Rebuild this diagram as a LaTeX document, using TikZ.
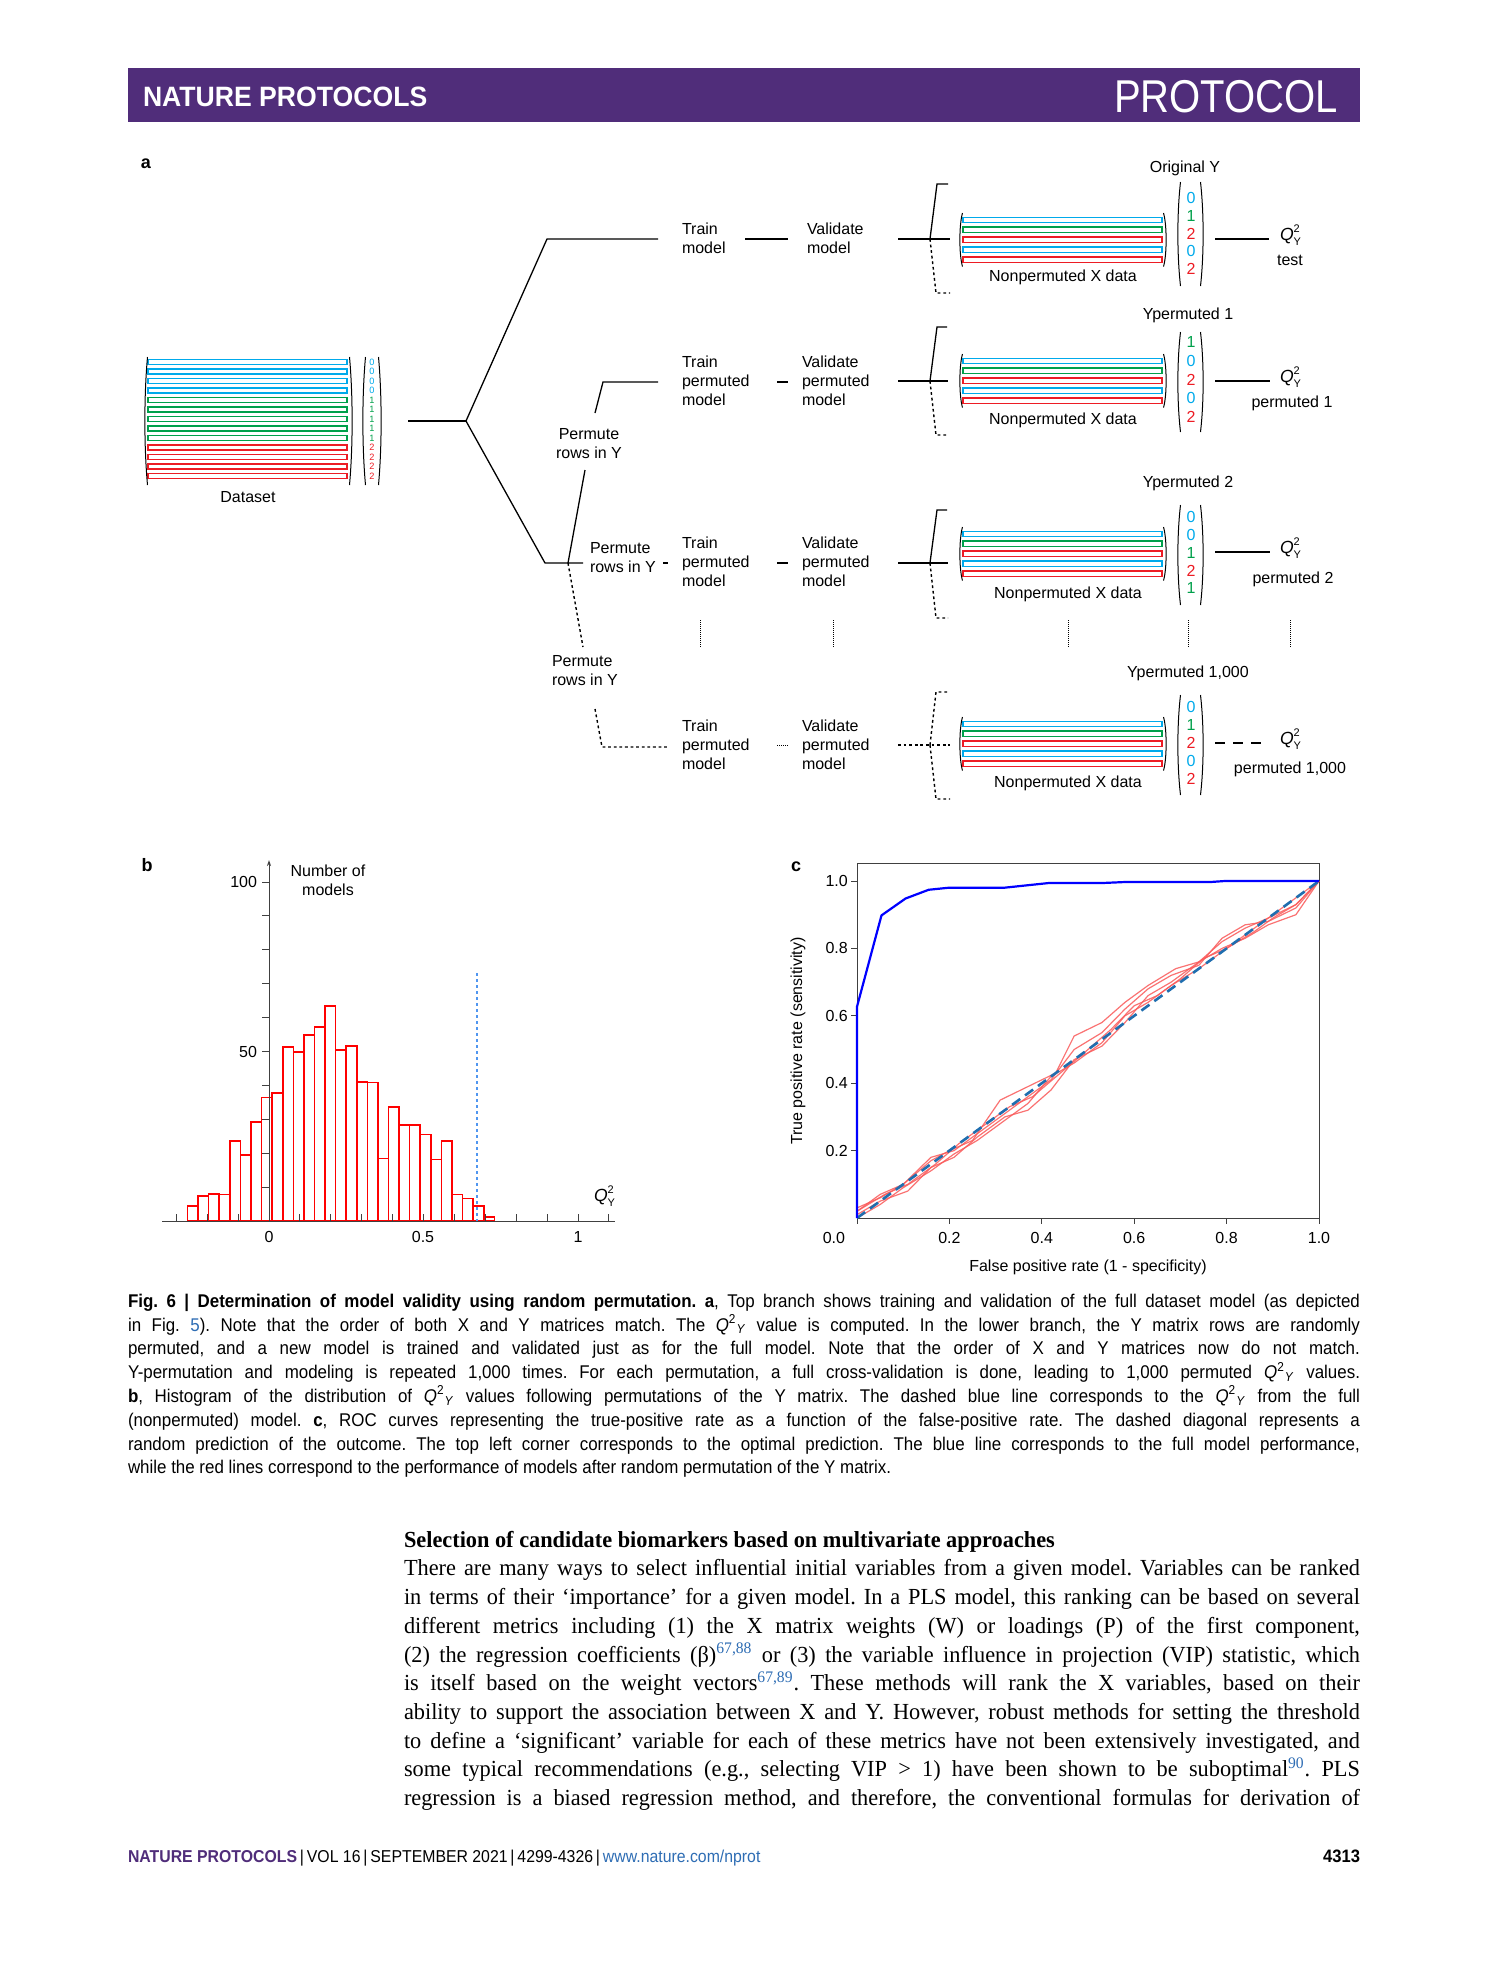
\documentclass[tikz,border=0pt]{standalone}
\usepackage{fontspec}
\setmainfont{Liberation Sans}
\newfontfamily\figfont{Liberation Sans}
\newfontfamily\capfont[FakeStretch=0.92]{Liberation Sans}
\newfontfamily\bodyfont[FakeStretch=0.97]{Liberation Serif}
\newfontfamily\headfontA[FakeStretch=0.95]{Liberation Sans}
\newfontfamily\headfontB[FakeStretch=0.87]{Liberation Sans}
\newfontfamily\footfont[FakeStretch=0.92]{Liberation Sans}
\usetikzlibrary{arrows.meta}
\definecolor{npurple}{RGB}{80,45,122}
\definecolor{cblue}{RGB}{0,170,235}
\definecolor{cgreen}{RGB}{0,160,75}
\definecolor{cred}{RGB}{237,28,36}
\definecolor{refblue}{RGB}{46,109,180}
\definecolor{diagblue}{RGB}{31,110,175}
\definecolor{rocred}{RGB}{250,90,90}
\definecolor{qblue}{RGB}{80,150,240}
\newcommand\myQ{{\itshape Q}\rlap{\smash{\raisebox{0.85ex}{\fontsize{5.5}{6}\selectfont 2}}}\smash{\raisebox{-0.55ex}{\fontsize{5.5}{6}\selectfont Y}}}
\newcommand\capQ{\textit{Q}\textsuperscript{2}\textsubscript{\textit{Y}}}
\newcommand\mylpar[3]{\draw[parline] (#1+2.5,#2) .. controls ({#1-1},{#2+0.3*(#3-#2)}) and ({#1-1},{#3-0.3*(#3-#2)}) .. (#1+2.5,#3);}
\newcommand\myrpar[3]{\draw[parline] (#1-2.5,#2) .. controls ({#1+1},{#2+0.3*(#3-#2)}) and ({#1+1},{#3-0.3*(#3-#2)}) .. (#1-2.5,#3);}
\newcommand\smallmat[6]{%
 \foreach \c [count=\i from 0] in {cblue,cgreen,cred,cblue,cred}
   \draw[barline,draw=\c] (963,{#1+\i*9.9-2.7}) rectangle (1162,{#1+\i*9.9+2.7});
 \mylpar{960}{#1-7}{#1+4*9.9+7}
 \myrpar{1166}{#1-7}{#1+4*9.9+7}
 \foreach \d/\c [count=\i from 0] in {#2}
   \node[text=\c, font=\figfont\fontsize{8}{9}\selectfont] at (1191,{#3+\i*#4}) {\d};
 \mylpar{1178}{#5}{#6}
 \myrpar{1203}{#5}{#6}
}
\begin{document}
\begin{tikzpicture}[x=0.5pt,y=-0.5pt, inner sep=0pt, outer sep=0pt,
  conn/.style={line width=0.65pt},
  dotl/.style={line width=0.7pt, dash pattern=on 1.4pt off 1.4pt},
  fined/.style={line width=0.5pt, dash pattern=on 0.5pt off 0.5pt},
  barline/.style={line width=0.75pt},
  parline/.style={line width=0.5pt},
  lbl/.style={font=\figfont\fontsize{8}{9.5}\selectfont, align=left},
  lblc/.style={font=\figfont\fontsize{8}{9.5}\selectfont, align=center},
  panel/.style={font=\figfont\bfseries\fontsize{9}{10}\selectfont},
  axisl/.style={line width=0.5pt, draw=black!75},
  histbar/.style={line width=0.8pt, draw=red, fill=white},
  qlbl/.style={anchor=west, font=\figfont\fontsize{8.8}{9}\selectfont},
]
\useasboundingbox (0,0) rectangle (1489,1978);
\fill[white] (0,0) rectangle (1489,1978);

% ---------- header ----------
\fill[npurple] (128,68) rectangle (1360,122);
\node[anchor=west, text=white, font=\headfontA\bfseries\fontsize{14}{14}\selectfont] (hdl) at (143,97) {NATURE PROTOCOLS};
\node[anchor=east, text=white, font=\headfontB\fontsize{23}{23}\selectfont] (hdr) at (1338,97) {PROTOCOL};

% ---------- panel a ----------
\node[panel] (pa) at (146,164) {a};
\foreach \c/\d [count=\i from 0] in {cblue/0,cblue/0,cblue/0,cblue/0,cgreen/1,cgreen/1,cgreen/1,cgreen/1,cgreen/1,cred/2,cred/2,cred/2,cred/2} {
  \draw[barline,draw=\c] (148,{362+\i*9.5-2.4}) rectangle (347,{362+\i*9.5+2.4});
  \node[text=\c, font=\figfont\fontsize{4.6}{5}\selectfont] at (372,{362+\i*9.5}) {\d};
}
\mylpar{145}{357}{485}
\myrpar{352}{357}{485}
\mylpar{363}{357}{485}
\myrpar{381}{357}{485}
\node[lblc] (ds) at (248,497) {Dataset};

\coordinate (d0) at (408,421);
\coordinate (fork) at (466,421);
\coordinate (topk) at (547,239);
\coordinate (topend) at (658,239);
\coordinate (lowk) at (545,563);
\coordinate (j3) at (568,563);
\coordinate (lowend) at (583,563);
\draw[conn] (d0) -- (fork);
\draw[conn] (fork) -- (topk) -- (topend);
\draw[conn] (fork) -- (lowk) -- (lowend);
\draw[conn] (j3) -- (585,470);
\draw[conn] (595,413) -- (603,382) -- (658,382);
\draw[dotl] (j3) -- (583,647);
\draw[dotl] (595,709) -- (602,747) -- (668,747);

\node[lblc] (p1) at (589,444) {Permute\\rows in Y};
\node[lbl, anchor=west] (p2) at (590,558) {Permute\\rows in Y};
\draw[conn] (663,563) -- (668,563);
\node[lbl, anchor=west] (p3) at (552,671) {Permute\\rows in Y};

\node[lbl, anchor=west] (t1) at (682,238) {Train\\model};
\node[lbl, anchor=west] (v1) at (807,238) {Validate\\model};
\draw[conn] (745,239) -- (788,239);
\node[lbl, anchor=west] (t2) at (682,381) {Train\\permuted\\model};
\node[lbl, anchor=west] (v2) at (802,381) {Validate\\permuted\\model};
\draw[conn] (777,382) -- (788,382);
\node[lbl, anchor=west] (t3) at (682,562) {Train\\permuted\\model};
\node[lbl, anchor=west] (v3) at (802,562) {Validate\\permuted\\model};
\draw[conn] (777,563) -- (788,563);
\node[lbl, anchor=west] (t4) at (682,745) {Train\\permuted\\model};
\node[lbl, anchor=west] (v4) at (802,745) {Validate\\permuted\\model};
\draw[fined] (777,745) -- (788,745);

% vertical ellipsis lines
\foreach \x in {700,833,1068,1188,1290}
  \draw[fined] (\x,620) -- (\x,648);

% brackets
\draw[conn] (898,239) -- (950,239);
\draw[conn] (930,239) -- (937,184) -- (948,184);
\draw[dotl] (930,239) -- (936,293) -- (950,293);
\draw[conn] (898,381) -- (948,381);
\draw[conn] (930,381) -- (937,327) -- (947,327);
\draw[dotl] (930,381) -- (936,435) -- (948,435);
\draw[conn] (898,563) -- (948,563);
\draw[conn] (930,563) -- (937,510) -- (947,510);
\draw[dotl] (930,563) -- (936,618) -- (948,618);
\draw[dotl] (898,745) -- (950,745);
\draw[dotl] (930,745) -- (936,692) -- (947,692);
\draw[dotl] (930,745) -- (936,799) -- (950,799);

% matrices
\smallmat{220}{0/cblue,1/cgreen,2/cred,0/cblue,2/cred}{198}{17.8}{182}{286}
\smallmat{361}{1/cgreen,0/cblue,2/cred,0/cblue,2/cred}{342}{18.8}{332}{432}
\smallmat{534}{0/cblue,0/cblue,1/cgreen,2/cred,1/cgreen}{517}{17.8}{505}{605}
\smallmat{724}{0/cblue,1/cgreen,2/cred,0/cblue,2/cred}{707}{18}{695}{795}

\node[lblc] (nx1) at (1063,277) {Nonpermuted X data};
\node[lblc] (nx2) at (1063,420) {Nonpermuted X data};
\node[lblc] (nx3) at (1068,594) {Nonpermuted X data};
\node[lblc] (nx4) at (1068,783) {Nonpermuted X data};
\node[lblc] (oy) at (1185,168) {Original Y};
\node[lblc] (yp1) at (1188,315) {Ypermuted 1};
\node[lblc] (yp2) at (1188,483) {Ypermuted 2};
\node[lblc] (yp3) at (1188,673) {Ypermuted 1,000};

% Q outputs
\node[qlbl] (q1) at (1280,236) {\myQ};
\node[lblc] (q1t) at (1290,260) {test};
\coordinate (q1e) at (1269,239);
\draw[conn] (1215,239) -- (q1e);
\node[qlbl] (q2) at (1280,378) {\myQ};
\node[lblc] (q2t) at (1292,403) {permuted 1};
\coordinate (q2e) at (1270,381);
\draw[conn] (1215,381) -- (q2e);
\node[qlbl] (q3) at (1280,549) {\myQ};
\node[lblc] (q3t) at (1293,579) {permuted 2};
\coordinate (q3e) at (1270,552);
\draw[conn] (1215,552) -- (q3e);
\node[qlbl] (q4) at (1280,740) {\myQ};
\node[lblc] (q4t) at (1290,769) {permuted 1,000};
\coordinate (q4e) at (1262,743);
\draw[line width=0.65pt, dash pattern=on 5pt off 4pt] (1215,743) -- (q4e);

% ---------- panel b ----------
\node[panel] (pb) at (147,865) {b};
\foreach \t [count=\i from 0] in {1206,1196,1194,1194.3,1141,1155,1121.7,1097.3,1092.7,1046.7,1051.7,1035,1026.7,1005.7,1050,1046,1081.7,1082.3,1158.3,1106.7,1125,1125,1134.3,1159.3,1141,1194.3,1198.3,1206,1216.7}
  \draw[histbar] ({187.5+\i*10.58},1221) rectangle ({187.5+(\i+1)*10.58},\t);
\draw[axisl] (162,1221) -- (615,1221);
\draw[axisl, -{Stealth[length=3pt,width=2pt]}] (269,1221) -- (269,860);
\foreach \k in {1,...,10}
  \draw[axisl] (262,{1221-\k*33.9}) -- (269,{1221-\k*33.9});
\foreach \j in {-3,...,11}
  \draw[axisl] ({269+\j*30.9},1214) -- ({269+\j*30.9},1221);
\draw[line width=0.9pt, dash pattern=on 1.5pt off 1.5pt, draw=qblue] (477,973) -- (477,1221);
\node[lblc, anchor=east] (b100) at (257,882) {100};
\node[lblc, anchor=east] (b50) at (257,1052) {50};
\node[lblc] (bx0) at (269,1237) {0};
\node[lblc] (bx5) at (423,1237) {0.5};
\node[lblc] (bx1) at (578,1237) {1};
\node[lblc] (bnum) at (328,880) {Number of\\models};
\node[qlbl] (bq) at (594,1197) {\myQ};

% ---------- panel c ----------
\node[panel] (pc) at (796,867) {c};
\draw[axisl] (857,863) rectangle (1319,1218);
\begin{scope}[shift={(857,1218)}, x=231pt, y=168.5pt]
  \foreach \u in {0,0.2,0.4,0.6,0.8,1}
    \draw[axisl] (\u,0) -- (\u,-0.018);
  \foreach \v in {0.2,0.4,0.6,0.8,1}
    \draw[axisl] (0,\v) -- (-0.014,\v);
  \node[lblc] at (-0.05,-0.06) {0.0};
  \foreach \u in {0.2,0.4,0.6,0.8,1.0}
    \node[lblc] at (\u,-0.06) {\u};
  \foreach \v in {0.2,0.4,0.6,0.8,1.0}
    \node[lblc, anchor=east] at (-0.02,\v) {\v};
  \begin{scope}[line width=0.6pt, draw=rocred, opacity=0.85, line join=round]
  \draw (0,0.02) -- (0.05,0.07) -- (0.1,0.1) -- (0.16,0.17) -- (0.2,0.2) -- (0.25,0.23) -- (0.31,0.35) -- (0.37,0.39) -- (0.43,0.43) -- (0.47,0.54) -- (0.53,0.58) -- (0.58,0.64) -- (0.63,0.69) -- (0.69,0.74) -- (0.74,0.76) -- (0.79,0.82) -- (0.84,0.86) -- (0.89,0.89) -- (0.95,0.93) -- (1,1);
  \draw (0,0.01) -- (0.05,0.05) -- (0.11,0.08) -- (0.16,0.15) -- (0.21,0.18) -- (0.26,0.24) -- (0.32,0.3) -- (0.37,0.32) -- (0.42,0.38) -- (0.47,0.47) -- (0.53,0.51) -- (0.58,0.58) -- (0.63,0.66) -- (0.68,0.7) -- (0.74,0.76) -- (0.79,0.8) -- (0.84,0.83) -- (0.89,0.87) -- (0.95,0.9) -- (1,1);
  \draw (0,0.03) -- (0.05,0.06) -- (0.1,0.1) -- (0.16,0.18) -- (0.21,0.2) -- (0.26,0.25) -- (0.32,0.31) -- (0.37,0.36) -- (0.42,0.41) -- (0.47,0.5) -- (0.53,0.55) -- (0.58,0.62) -- (0.63,0.68) -- (0.68,0.72) -- (0.74,0.75) -- (0.79,0.83) -- (0.84,0.87) -- (0.89,0.88) -- (0.95,0.92) -- (1,1);
  \draw (0,0) -- (0.05,0.04) -- (0.1,0.09) -- (0.16,0.14) -- (0.21,0.19) -- (0.26,0.23) -- (0.32,0.29) -- (0.37,0.34) -- (0.42,0.42) -- (0.47,0.46) -- (0.53,0.52) -- (0.58,0.6) -- (0.63,0.64) -- (0.68,0.69) -- (0.74,0.74) -- (0.79,0.79) -- (0.84,0.84) -- (0.89,0.89) -- (0.95,0.95) -- (1,1);
  \draw (0,0.02) -- (0.06,0.07) -- (0.11,0.1) -- (0.17,0.16) -- (0.22,0.22) -- (0.27,0.27) -- (0.33,0.33) -- (0.38,0.36) -- (0.44,0.43) -- (0.5,0.5) -- (0.55,0.56) -- (0.6,0.63) -- (0.65,0.66) -- (0.7,0.71) -- (0.75,0.77) -- (0.8,0.8) -- (0.86,0.85) -- (0.9,0.89) -- (0.95,0.93) -- (1,1);
  \end{scope}
  \draw[line width=1.3pt, draw=diagblue, dash pattern=on 5pt off 3pt] (0,0) -- (1,1);
  \draw[line width=1.1pt, draw=blue, line join=round] (0,0) -- (0,0.627) -- (0.053,0.898) -- (0.105,0.948) -- (0.155,0.974) -- (0.198,0.98) -- (0.318,0.98) -- (0.415,0.994) -- (0.53,0.994) -- (0.58,0.997) -- (0.765,0.997) -- (0.796,1) -- (1,1);
\end{scope}
\node[lblc] (cxl) at (1088,1267) {False positive rate (1 - specificity)};
\node[lblc, rotate=90] (cyl) at (798,1041) {True positive rate (sensitivity)};

% ---------- caption ----------
\node[anchor=north west, text width=616pt, align=justify,
      font=\capfont\fontsize{9.2}{11.9}\selectfont] (cap) at (128,1294) {%
\frenchspacing\hyphenpenalty=10000\tolerance=10000
{\bfseries Fig.\ 6 | Determination of model validity using random permutation. a}, Top branch shows training and validation of the full dataset model (as depicted\linebreak
in Fig.~\textcolor{refblue}{5}). Note that the order of both X and Y matrices match. The \capQ{} value is computed. In the lower branch, the Y matrix rows are randomly\linebreak
permuted, and a new model is trained and validated just as for the full model. Note that the order of X and Y matrices now do not match.\linebreak
Y-permutation and modeling is repeated 1,000 times. For each permutation, a full cross-validation is done, leading to 1,000 permuted \capQ{} values.\linebreak
{\bfseries b}, Histogram of the distribution of \capQ{} values following permutations of the Y matrix. The dashed blue line corresponds to the \capQ{} from the full\linebreak
(nonpermuted) model. {\bfseries c}, ROC curves representing the true-positive rate as a function of the false-positive rate. The dashed diagonal represents a\linebreak
random prediction of the outcome. The top left corner corresponds to the optimal prediction. The blue line corresponds to the full model performance,\linebreak
while the red lines correspond to the performance of models after random permutation of the Y matrix.};

% ---------- body text ----------
\node[anchor=north west, text width=478pt, align=justify,
      font=\bodyfont\fontsize{11.5}{14.35}\selectfont] (body) at (404,1531) {%
\frenchspacing\hyphenpenalty=10000\tolerance=10000
{\bfseries Selection of candidate biomarkers based on multivariate approaches}\\
There are many ways to select influential initial variables from a given model. Variables can be ranked\linebreak
in terms of their ‘importance’ for a given model. In a PLS model, this ranking can be based on several\linebreak
different metrics including (1) the X matrix weights (W) or loadings (P) of the first component,\linebreak
(2) the regression coefficients (β)\textsuperscript{\textcolor{refblue}{67,88}} or (3) the variable influence in projection (VIP) statistic, which\linebreak
is itself based on the weight vectors\textsuperscript{\textcolor{refblue}{67,89}}. These methods will rank the X variables, based on their\linebreak
ability to support the association between X and Y. However, robust methods for setting the threshold\linebreak
to define a ‘significant’ variable for each of these metrics have not been extensively investigated, and\linebreak
some typical recommendations (e.g., selecting VIP > 1) have been shown to be suboptimal\textsuperscript{\textcolor{refblue}{90}}. PLS\linebreak
regression is a biased regression method, and therefore, the conventional formulas for derivation of\parfillskip=0pt\par};

% ---------- footer ----------
\node[anchor=base west, font=\footfont\fontsize{8.6}{10}\selectfont] (foot) at (128,1862)
  {\textcolor{npurple}{\bfseries NATURE PROTOCOLS}\,|\,VOL 16\,|\,SEPTEMBER 2021\,|\,4299-4326\,|\,\textcolor{refblue}{www.nature.com/nprot}};
\node[anchor=base east, font=\footfont\bfseries\fontsize{9}{10}\selectfont] (pg) at (1360,1862) {4313};
\end{tikzpicture}
\end{document}
